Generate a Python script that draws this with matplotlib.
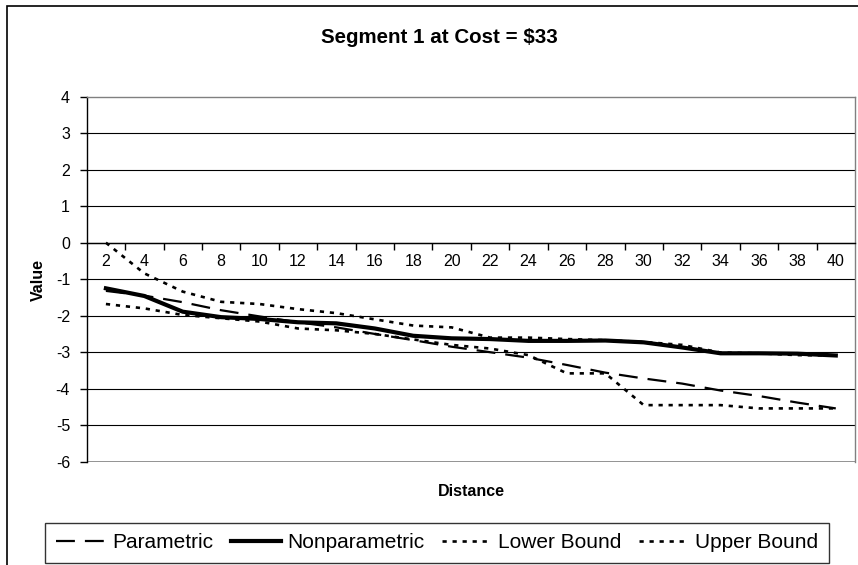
import matplotlib
matplotlib.use("Agg")
import matplotlib.pyplot as plt
from matplotlib.patches import Rectangle
from matplotlib.ticker import FixedLocator, NullFormatter

plt.rcParams['font.family'] = ['Liberation Sans', 'DejaVu Sans']

distance = [2, 4, 6, 8, 10, 12, 14, 16, 18, 20, 22, 24, 26, 28, 30, 32, 34, 36, 38, 40]
parametric = [-1.32, -1.45, -1.63, -1.85, -2.02, -2.18, -2.32, -2.50, -2.67, -2.85,
              -3.00, -3.15, -3.35, -3.56, -3.72, -3.86, -4.05, -4.20, -4.38, -4.54]
nonparametric = [-1.25, -1.46, -1.89, -2.04, -2.09, -2.18, -2.21, -2.35, -2.55, -2.62,
                 -2.64, -2.69, -2.69, -2.68, -2.73, -2.87, -3.03, -3.03, -3.04, -3.09]
lower_bound = [-1.68, -1.80, -1.98, -2.07, -2.16, -2.35, -2.40, -2.50, -2.65, -2.80,
               -2.90, -3.08, -3.58, -3.58, -4.45, -4.45, -4.45, -4.54, -4.54, -4.54]
upper_bound = [0.00, -0.84, -1.34, -1.62, -1.68, -1.82, -1.93, -2.10, -2.27, -2.32,
               -2.60, -2.60, -2.64, -2.67, -2.72, -2.80, -3.01, -3.03, -3.08, -3.09]
y_ticks = [-6, -5, -4, -3, -2, -1, 0, 1, 2, 3, 4]

W, H = 858, 565
fig = plt.figure(figsize=(W / 100, H / 100), dpi=100)
fig.patch.set_facecolor('white')

# outer chart border (top and left visible)
fig.patches.append(Rectangle((7 / W, -0.2), 2.0, 1.2 - 6 / H, transform=fig.transFigure,
                             fill=False, edgecolor='black', linewidth=1.2))

L, R, T, B = 86.7, 855, 96.7, 461.7
ax = fig.add_axes([L / W, 1 - B / H, (R - L) / W, (B - T) / H])

idx = list(range(len(distance)))
ax.set_xlim(-0.5, len(distance) - 0.5)
ax.set_ylim(-6, 4)

# gridlines
for v in y_ticks:
    if v in (-6, 4):
        continue
    ax.axhline(v, color='black', linewidth=0.8, zorder=1)

ax.plot(idx, parametric, color='black', linewidth=1.6, linestyle=(0, (8.5, 4.5)), label='Parametric', zorder=3)
ax.plot(idx, nonparametric, color='black', linewidth=3.0, linestyle='-', label='Nonparametric', zorder=4)
ax.plot(idx, lower_bound, color='black', linewidth=1.9, linestyle=(0, (1.6, 2.2)), label='Lower Bound', zorder=3)
ax.plot(idx, upper_bound, color='black', linewidth=1.9, linestyle=(0, (1.6, 2.2)), label='Upper Bound', zorder=3)

# spines
for s in ('top', 'right'):
    ax.spines[s].set_color('#808080')
    ax.spines[s].set_linewidth(1.0)
ax.spines['left'].set_color('black')
ax.spines['left'].set_linewidth(1.0)
ax.spines['bottom'].set_position(('data', 0))
ax.spines['bottom'].set_color('black')
ax.spines['bottom'].set_linewidth(1.0)
ax.axhline(-6, color='#808080', linewidth=1.2, zorder=2)

# y ticks
ax.set_yticks(y_ticks)
ax.set_yticklabels([str(v) for v in y_ticks])
ax.tick_params(axis='y', direction='out', length=5, width=1, pad=7, labelsize=11.5)

# x ticks: marks between categories, labels at categories
ax.xaxis.set_major_locator(FixedLocator([i + 0.5 for i in idx[:-1]]))
ax.xaxis.set_major_formatter(NullFormatter())
ax.xaxis.set_minor_locator(FixedLocator(idx))
ax.set_xticklabels([str(d) for d in distance], minor=True)
ax.tick_params(axis='x', which='major', direction='out', length=5, width=1)
ax.tick_params(axis='x', which='minor', length=0, pad=8, labelsize=11.5)

# texts
fig.text(439 / W, 1 - 37.5 / H, 'Segment 1 at Cost = $33', ha='center', va='center',
         fontsize=14.8, fontweight='bold')
fig.text(38 / W, 1 - 280 / H, 'Value', ha='center', va='center', rotation=90,
         fontsize=11.5, fontweight='bold')
fig.text(471 / W, 1 - 492 / H, 'Distance', ha='center', va='center',
         fontsize=11.5, fontweight='bold')

leg = fig.legend(loc='center', bbox_to_anchor=((43.3 + 830.7) / 2 / W, 1 - 543 / H),
                 ncol=4, frameon=True, fancybox=False, edgecolor='black', fontsize=15,
                 handlelength=2.4, handletextpad=0.3, columnspacing=0.85,
                 borderpad=0.5, borderaxespad=0)
leg.get_frame().set_linewidth(1.0)

fig.savefig('out.png', dpi=100, facecolor='white')
